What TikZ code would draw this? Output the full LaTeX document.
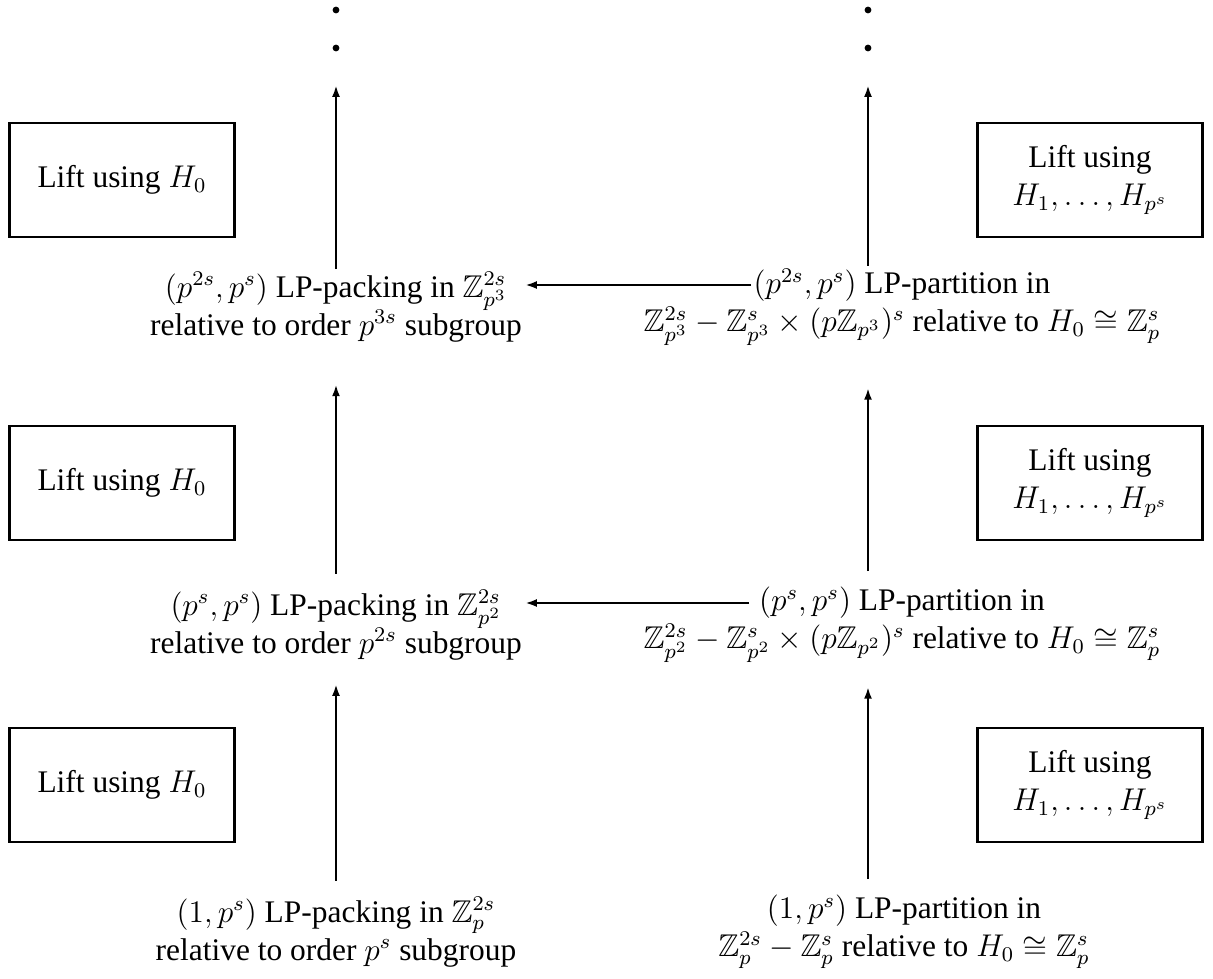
\documentclass[tikz,border=0pt,12pt]{standalone}
\usepackage{amsmath, amssymb}
\usepackage{fontspec}
\setmainfont{Liberation Serif}[Ligatures=TeX]
\newfontfamily\timesfont{Liberation Serif}
\newcommand\tightlines{\lineskiplimit=-20pt\relax}
\usetikzlibrary{arrows.meta}

\begin{document}
\begin{tikzpicture}[x=0.3817pt, y=-0.3817pt,
    liftbox/.style={draw, line width=1pt, minimum width=86pt, minimum height=43.5pt, align=center, font=\timesfont},
    stage/.style={align=center, inner sep=1pt, font=\timesfont\tightlines},
    arr/.style={line width=1pt, -{Latex[length=4.5pt, width=3pt]}}]
  \useasboundingbox (0,0) rectangle (1213,978);
  % dots at the top of both columns
  \fill (336,10) circle (1.3pt);
  \fill (336,48) circle (1.3pt);
  \fill (868,10) circle (1.3pt);
  \fill (868,48) circle (1.3pt);
  \coordinate (ltop) at (336,85);
  \coordinate (rtop) at (868,85);
  % lifting boxes
  \node[liftbox] (lb1) at (122,180) {Lift using $H_0$};
  \node[liftbox] (lb2) at (122,483) {Lift using $H_0$};
  \node[liftbox] (lb3) at (122,785) {Lift using $H_0$};
  \node[liftbox] (rb1) at (1090,180) {Lift using\\ $H_1,\dots,H_{p^s}$};
  \node[liftbox] (rb2) at (1090,483) {Lift using\\ $H_1,\dots,H_{p^s}$};
  \node[liftbox] (rb3) at (1090,785) {Lift using\\ $H_1,\dots,H_{p^s}$};
  % packings (left column)
  \node[stage] (pk1) at (336,307) {$(p^{2s},p^s)$ LP-packing in $\mathbb{Z}_{p^3}^{2s}$\\ relative to order $p^{3s}$ subgroup};
  \node[stage] (pk2) at (336,625) {$(p^s,p^s)$ LP-packing in $\mathbb{Z}_{p^2}^{2s}$\\ relative to order $p^{2s}$ subgroup};
  \node[stage] (pk3) at (336,932) {$(1,p^s)$ LP-packing in $\mathbb{Z}_{p}^{2s}$\\ relative to order $p^{s}$ subgroup};
  % partitions (right column)
  \node[stage] (pt1) at (902,307) {$(p^{2s},p^s)$ LP-partition in\\ $\mathbb{Z}_{p^3}^{2s}-\mathbb{Z}_{p^3}^{s}\times(p\mathbb{Z}_{p^3})^s$ relative to $H_0\cong\mathbb{Z}_p^s$};
  \node[stage] (pt2) at (902,625) {$(p^s,p^s)$ LP-partition in\\ $\mathbb{Z}_{p^2}^{2s}-\mathbb{Z}_{p^2}^{s}\times(p\mathbb{Z}_{p^2})^s$ relative to $H_0\cong\mathbb{Z}_p^s$};
  \node[stage] (pt3) at (904,932) {$(1,p^s)$ LP-partition in\\ $\mathbb{Z}_{p}^{2s}-\mathbb{Z}_{p}^{s}$ relative to $H_0\cong\mathbb{Z}_p^s$};
  \coordinate (h1) at (751,285);
  \coordinate (h2) at (749,603);
  % lifting arrows
  \draw[arr] (pk1.north) -- (ltop);
  \draw[arr, shorten <=5pt, shorten >=15pt] (pk2.north) -- (pk1.south);
  \draw[arr, shorten <=5pt, shorten >=8pt] (pk3.north) -- (pk2.south);
  \draw[arr] (pt1.north -| rtop) -- (rtop);
  \draw[arr, shorten <=5pt, shorten >=15pt] (pt2.north -| rtop) -- (pt1.south -| rtop);
  \draw[arr, shorten <=5pt, shorten >=8pt] (pt3.north -| rtop) -- (pt2.south -| rtop);
  % partitions give packings
  \draw[arr] (h1) -- (pk1.east |- h1);
  \draw[arr] (h2) -- (pk2.east |- h2);
\end{tikzpicture}
\end{document}
